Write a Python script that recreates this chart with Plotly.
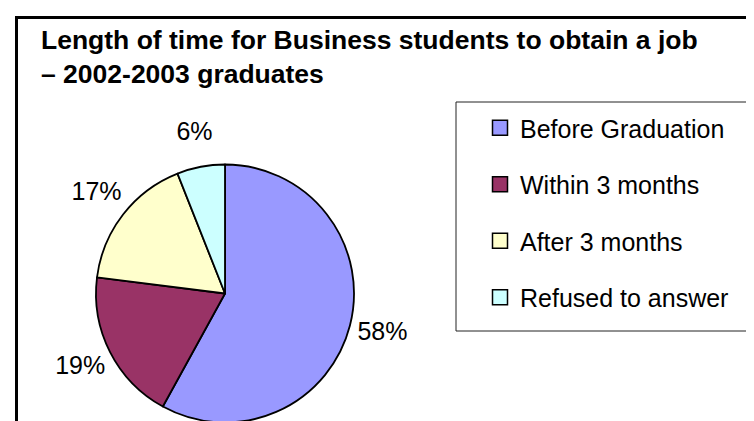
import math
import plotly.graph_objects as go

categories = ["Before Graduation", "Within 3 months", "After 3 months", "Refused to answer"]
values = [58, 19, 17, 6]
colors = ["#9999FF", "#993366", "#FFFFCC", "#CCFFFF"]
title_lines = ["Length of time for Business students to obtain a job", "– 2002-2003 graduates"]

W, H = 754, 421
FONT = "Liberation Sans, Arial, sans-serif"

def px(x):
    return x / W

def py(y):
    return 1 - y / H

fig = go.Figure()

# pie centred at (217, 285.5), radius ~129 px
cx, cy, r = 217, 285.5, 129
dom = dict(x=[px(cx - r), px(cx + r)], y=[py(cy + r), py(cy - r)])
fig.add_trace(go.Pie(
    labels=categories,
    values=values,
    sort=False,
    direction="clockwise",
    rotation=0,
    marker=dict(colors=colors, line=dict(color="#000000", width=1.8)),
    textinfo="none",
    domain=dom,
    showlegend=False,
    hoverinfo="label+percent",
))

# percentage labels placed radially outside each slice; axes are scaled in pie-radius units
total = sum(values)
LABEL_R = 1.26
lx, ly, pct_text = [], [], []
acc = 0
for v in values:
    ang = math.radians((acc + v / 2) / total * 360)
    acc += v
    lx.append(LABEL_R * math.sin(ang))
    ly.append(LABEL_R * math.cos(ang))
    pct_text.append(f"{round(v / total * 100)}%")
fig.add_trace(go.Scatter(
    x=lx, y=ly, mode="text", text=pct_text,
    textposition="middle center",
    textfont=dict(family=FONT, size=25, color="#000000"),
    cliponaxis=False, showlegend=False, hoverinfo="skip",
))

# legend entries (one per category, in its own group for spacing)
for name, col in zip(categories, colors):
    fig.add_trace(go.Scatter(
        x=[None], y=[None], mode="markers", name=name,
        legendgroup=name,
        marker=dict(symbol="square", size=15, color=col,
                    line=dict(color="#000000", width=1.5)),
    ))

shapes = [
    # chart frame (top and left edges)
    dict(type="line", xref="paper", yref="paper", x0=px(7), x1=1, y0=py(9.5), y1=py(9.5),
         line=dict(color="#000000", width=3)),
    dict(type="line", xref="paper", yref="paper", x0=px(8.5), x1=px(8.5), y0=py(8), y1=0,
         line=dict(color="#000000", width=3)),
    # legend box
    dict(type="rect", xref="paper", yref="paper", x0=px(448), x1=px(753), y0=py(323), y1=py(94),
         line=dict(color="#222222", width=1)),
]

fig.update_layout(
    width=W, height=H,
    margin=dict(l=0, r=0, t=0, b=0),
    paper_bgcolor="#FFFFFF",
    plot_bgcolor="rgba(0,0,0,0)",
    font=dict(family=FONT, color="#000000"),
    annotations=[dict(
        text="<b>" + "<br>".join(title_lines) + "</b>",
        font=dict(family=FONT, size=26.5, color="#000000"),
        xref="paper", yref="paper", x=px(31), y=py(15),
        xanchor="left", yanchor="top", align="left", showarrow=False,
    )],
    xaxis=dict(visible=False, range=[-cx / r, (W - cx) / r], domain=[0, 1]),
    yaxis=dict(visible=False, range=[(cy - H) / r, cy / r], domain=[0, 1]),
    legend=dict(
        x=px(472), y=py(97), xanchor="left", yanchor="top",
        font=dict(family=FONT, size=25, color="#000000"),
        bgcolor="rgba(0,0,0,0)", borderwidth=0,
        tracegroupgap=21, itemsizing="trace",
    ),
    shapes=shapes,
)

fig.write_html("out.html")
